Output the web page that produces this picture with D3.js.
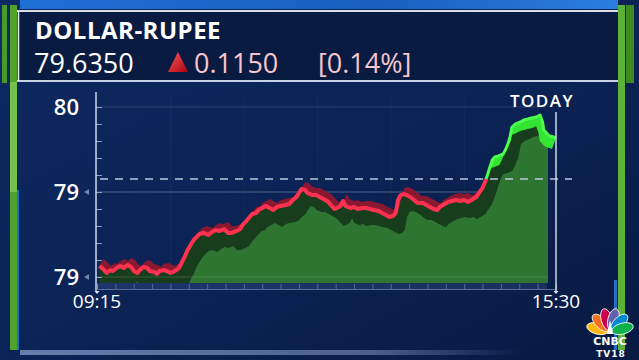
<!DOCTYPE html>
<html>
<head>
<meta charset="utf-8">
<script src="https://cdnjs.cloudflare.com/ajax/libs/d3/7.8.5/d3.min.js"></script>
<style>
  html, body { margin: 0; padding: 0; background: #081a40; }
  svg { display: block; font-family: "Open Sans", "DejaVu Sans", sans-serif; }
</style>
</head>
<body>
<div id="chart"></div>
<script>
// ---- data ----
const title = 'DOLLAR-RUPEE';
const lastRate = '79.6350';
const change = '0.1150';
const changePct = '[0.14%]';

// minutes after the 09:15 open
const minutes = [2, 5, 8, 11, 13, 16, 19, 22, 25, 28, 30, 33, 35, 38, 41, 43, 47, 49, 51, 55,
  57, 60, 62, 65, 67, 69, 72, 74, 77, 79, 82, 84, 87, 91, 94, 97, 100, 104, 107, 110,
  114, 117, 119, 122, 124, 127, 130, 132, 135, 138, 141, 144, 147, 150, 154, 157, 160, 163, 165, 167,
  170, 172, 176, 179, 182, 185, 189, 191, 194, 196, 199, 201, 203, 207, 210, 213, 217, 220, 223, 226,
  230, 233, 236, 239, 242, 244, 246, 248, 251, 253, 256, 259, 262, 266, 269, 272, 275, 278, 280, 284,
  287, 290, 293, 297, 300, 303, 306, 310, 312, 315, 317, 319, 321, 323, 325, 328, 332, 334, 337, 339,
  342, 346, 349, 352, 355, 359, 362, 364, 365, 368, 370, 373, 375];

const rates = [79.065, 79.047, 79.024, 79.041, 79.035, 79.053, 79.065, 79.053, 79.071, 79.059,
  79.035, 79.024, 79.041, 79.059, 79.053, 79.035, 79.029, 79.018, 79.035, 79.041,
  79.035, 79.024, 79.029, 79.041, 79.053, 79.082, 79.124, 79.159, 79.194, 79.218,
  79.241, 79.253, 79.259, 79.247, 79.265, 79.276, 79.271, 79.282, 79.259, 79.259,
  79.271, 79.282, 79.306, 79.329, 79.347, 79.371, 79.376, 79.394, 79.406, 79.418,
  79.406, 79.394, 79.412, 79.418, 79.424, 79.429, 79.453, 79.471, 79.494, 79.518,
  79.512, 79.494, 79.482, 79.482, 79.471, 79.459, 79.441, 79.424, 79.400, 79.406,
  79.418, 79.447, 79.418, 79.406, 79.412, 79.400, 79.406, 79.406, 79.400, 79.394,
  79.388, 79.376, 79.365, 79.353, 79.359, 79.376, 79.453, 79.482, 79.488, 79.482,
  79.471, 79.453, 79.435, 79.435, 79.424, 79.412, 79.400, 79.394, 79.412, 79.429,
  79.441, 79.447, 79.453, 79.447, 79.453, 79.441, 79.453, 79.471, 79.494, 79.524,
  79.559, 79.600, 79.647, 79.688, 79.706, 79.712, 79.724, 79.753, 79.806, 79.882,
  79.900, 79.912, 79.924, 79.929, 79.935, 79.941, 79.953, 79.912, 79.865, 79.841,
  79.829, 79.824, 79.818];

const prevClose = 79.576;           // dashed reference line
const yTickValues = [79, 79.5, 80];
const yTickLabels = ['79', '79', '80'];
const xTickLabels = ['09:15', '15:30'];
const sessionMinutes = [0, 375];

const data = minutes.map((m, i) => ({ m: m, v: rates[i] }));

// ---- layout ----
const W = 639, H = 360;
const plotBottom = 283;   // bottom of the green fill
const fillRight = 548;

const svg = d3.select('#chart').append('svg')
  .attr('width', W)
  .attr('height', H);

const defs = svg.append('defs');

const bgGrad = defs.append('linearGradient').attr('id', 'bg')
  .attr('x1', 0).attr('y1', 0).attr('x2', 1).attr('y2', 1);
bgGrad.append('stop').attr('offset', '0%').attr('stop-color', '#0e2a62');
bgGrad.append('stop').attr('offset', '55%').attr('stop-color', '#0b2254');
bgGrad.append('stop').attr('offset', '100%').attr('stop-color', '#081a42');

const topGrad = defs.append('linearGradient').attr('id', 'topStrip')
  .attr('x1', 0).attr('y1', 0).attr('x2', 1).attr('y2', 0);
topGrad.append('stop').attr('offset', '0%').attr('stop-color', '#1f6fd6');
topGrad.append('stop').attr('offset', '60%').attr('stop-color', '#1a5fc0');
topGrad.append('stop').attr('offset', '100%').attr('stop-color', '#2a7ee0');

const triGrad = defs.append('linearGradient').attr('id', 'tri')
  .attr('x1', 0).attr('y1', 0).attr('x2', 1).attr('y2', 1);
triGrad.append('stop').attr('offset', '0%').attr('stop-color', '#ff5a5a');
triGrad.append('stop').attr('offset', '100%').attr('stop-color', '#a8000e');

const glowGrad = defs.append('linearGradient').attr('id', 'glow')
  .attr('x1', 0).attr('y1', 0).attr('x2', 1).attr('y2', 0);
glowGrad.append('stop').attr('offset', '0%').attr('stop-color', '#8ea4d0').attr('stop-opacity', 0.7);
glowGrad.append('stop').attr('offset', '70%').attr('stop-color', '#8ea4d0').attr('stop-opacity', 0.5);
glowGrad.append('stop').attr('offset', '100%').attr('stop-color', '#8ea4d0').attr('stop-opacity', 0);

// background
svg.append('rect').attr('width', W).attr('height', H).attr('fill', 'url(#bg)');

// header
svg.append('rect').attr('x', 20).attr('y', 0).attr('width', 598).attr('height', 9)
  .attr('fill', 'url(#topStrip)');
svg.append('rect').attr('x', 18).attr('y', 11).attr('width', 602).attr('height', 70)
  .attr('fill', '#0a1b42');
svg.append('line').attr('x1', 16).attr('x2', 622).attr('y1', 11).attr('y2', 11)
  .attr('stroke', '#d8dee8').attr('stroke-width', 2);
svg.append('line').attr('x1', 16).attr('x2', 622).attr('y1', 81).attr('y2', 81)
  .attr('stroke', '#c8d2e2').attr('stroke-width', 2);
svg.append('line').attr('x1', 18.5).attr('x2', 18.5).attr('y1', 11).attr('y2', 81)
  .attr('stroke', '#e8ecf2').attr('stroke-width', 1.5);

// side bars
svg.append('rect').attr('x', 2).attr('y', 5).attr('width', 5).attr('height', 78).attr('fill', '#4a9a2a');
svg.append('rect').attr('x', 10).attr('y', 5).attr('width', 7).attr('height', 345).attr('fill', '#4fa32c');
svg.append('rect').attr('x', 10).attr('y', 82).attr('width', 7).attr('height', 110).attr('fill', '#74c24c');
svg.append('rect').attr('x', 17).attr('y', 190).attr('width', 2).attr('height', 160).attr('fill', '#1e6fc8');
svg.append('rect').attr('x', 618).attr('y', 5).attr('width', 7).attr('height', 345).attr('fill', '#5cb236');
svg.append('rect').attr('x', 626).attr('y', 5).attr('width', 8).attr('height', 78).attr('fill', '#3e8a22');
svg.append('rect').attr('x', 614).attr('y', 280).attr('width', 3).attr('height', 70).attr('fill', '#1e6fc8');

// bottom glow
svg.append('rect').attr('x', 20).attr('y', 350).attr('width', 500).attr('height', 5)
  .attr('fill', 'url(#glow)');

// header text
svg.append('text').attr('x', 35).attr('y', 39)
  .attr('font-size', 24).attr('font-weight', 700).attr('fill', '#ffffff')
  .attr('letter-spacing', 0.5)
  .text(title);
svg.append('text').attr('x', 34).attr('y', 73)
  .attr('font-size', 27).attr('fill', '#ffffff')
  .text(lastRate);
svg.append('path').attr('d', 'M168,72 L178,52 L188,72 Z').attr('fill', 'url(#tri)');
svg.append('text').attr('x', 194).attr('y', 73)
  .attr('font-size', 27).attr('fill', '#f6c6cc')
  .text(change);
svg.append('text').attr('x', 318).attr('y', 73)
  .attr('font-size', 27).attr('fill', '#f6c6cc')
  .text(changePct);

// scales
const x = d3.scaleLinear().domain(sessionMinutes).range([97, 556]);
const y = d3.scaleLinear().domain([79, 80]).range([277, 107]);

// clips
defs.append('clipPath').attr('id', 'fillClip').append('rect')
  .attr('x', 97).attr('y', 90).attr('width', fillRight - 97).attr('height', plotBottom - 90);
defs.append('clipPath').attr('id', 'aboveClip').append('rect')
  .attr('x', 0).attr('y', 0).attr('width', W).attr('height', y(prevClose));
defs.append('clipPath').attr('id', 'belowClip').append('rect')
  .attr('x', 0).attr('y', y(prevClose)).attr('width', W).attr('height', H - y(prevClose));

// faint gridlines
svg.append('g').selectAll('line').data(d3.range(0, 376, 60)).join('line')
  .attr('x1', d => x(d)).attr('x2', d => x(d))
  .attr('y1', 95).attr('y2', 290)
  .attr('stroke', '#ffffff').attr('stroke-opacity', 0.04);
svg.append('g').selectAll('line').data(yTickValues).join('line')
  .attr('x1', 97).attr('x2', 546)
  .attr('y1', d => y(d)).attr('y2', d => y(d))
  .attr('stroke', '#ffffff').attr('stroke-opacity', d => d === 79.5 ? 0.28 : 0.12);

// green area layers (3d look)
const fillG = svg.append('g').attr('clip-path', 'url(#fillClip)');
fillG.append('path').datum(data)
  .attr('fill', '#173d1d')
  .attr('d', d3.area().x(d => x(d.m)).y0(plotBottom).y1(d => y(d.v)));
fillG.append('path').datum(data)
  .attr('fill', '#2e7532')
  .attr('d', d3.area().x(d => x(d.m) + 9).y0(plotBottom + 20).y1(d => y(d.v) + 17));
fillG.append('line').attr('x1', 97).attr('x2', fillRight)
  .attr('y1', y(79)).attr('y2', y(79))
  .attr('stroke', '#6fa070').attr('stroke-opacity', 0.35);

// bottom axis strip
const xAxis = d3.axisBottom(x).tickValues(d3.range(0, 376, 15)).tickSize(-5).tickFormat('');
const xg = svg.append('g').attr('transform', `translate(0,${plotBottom + 6})`).call(xAxis);
xg.select('.domain').attr('stroke', '#8da3cc').attr('stroke-opacity', 0.6);
xg.selectAll('.tick line').attr('stroke', '#8da3cc').attr('stroke-opacity', 0.5);
svg.append('rect').attr('x', 97).attr('y', plotBottom).attr('width', 450).attr('height', 6)
  .attr('fill', '#6b86c0').attr('opacity', 0.18);

// dashed previous close
svg.append('line')
  .attr('x1', 100).attr('x2', 572)
  .attr('y1', y(prevClose)).attr('y2', y(prevClose))
  .attr('stroke', '#b9c6de').attr('stroke-width', 1.5)
  .attr('stroke-dasharray', '8,7');

// ribbon line, red below previous close and green above
const line = d3.line().x(d => x(d.m)).y(d => y(d.v));
const redBand = d3.area()
  .x0(d => x(d.m)).y0(d => y(d.v))
  .x1(d => x(d.m) + 4).y1(d => y(d.v) - 7);
const greenBand = d3.area()
  .x0(d => x(d.m)).y0(d => y(d.v))
  .x1(d => x(d.m) - 4).y1(d => y(d.v) + 11);

const redG = svg.append('g').attr('clip-path', 'url(#belowClip)');
redG.append('path').datum(data).attr('d', redBand).attr('fill', '#8a1830');
redG.append('path').datum(data).attr('d', line)
  .attr('fill', 'none').attr('stroke', '#ff3350').attr('stroke-width', 4)
  .attr('stroke-linejoin', 'round');

const greenG = svg.append('g').attr('clip-path', 'url(#aboveClip)');
greenG.append('path').datum(data).attr('d', greenBand).attr('fill', '#33e433');
greenG.append('path').datum(data).attr('d', line)
  .attr('fill', 'none').attr('stroke', '#4cff4c').attr('stroke-width', 3)
  .attr('stroke-linejoin', 'round');

// left axis with minor ticks
const yAxis = d3.axisRight(y).tickValues(d3.range(79, 80.01, 0.1)).tickSize(6).tickFormat('');
const yg = svg.append('g').attr('transform', 'translate(96,0)').call(yAxis);
yg.select('.domain').remove();
yg.selectAll('.tick line').attr('stroke', '#8fa2c6').attr('stroke-width', 1);
svg.append('line').attr('x1', 96).attr('x2', 96).attr('y1', 92).attr('y2', 291)
  .attr('stroke', '#cfd8ea').attr('stroke-width', 1.5);

// right "today" marker
svg.append('line').attr('x1', x(375)).attr('x2', x(375)).attr('y1', 112).attr('y2', 291)
  .attr('stroke', '#cfd8ea').attr('stroke-width', 1.5);
svg.append('text').attr('x', 542).attr('y', 107).attr('text-anchor', 'middle')
  .attr('font-size', 17).attr('font-weight', 600).attr('letter-spacing', 1.5)
  .attr('fill', '#ffffff').text('TODAY');

// y labels with small arrow heads
yTickValues.forEach((v, i) => {
  svg.append('text').attr('x', 79).attr('y', y(v) + 8).attr('text-anchor', 'end')
    .attr('font-size', 22).attr('font-weight', 600).attr('fill', '#ffffff')
    .text(yTickLabels[i]);
  if (i < 2) {
    svg.append('path')
      .attr('d', `M${84},${y(v)} l5,-3 l0,6 Z`)
      .attr('fill', '#7085ad');
  }
});

// x labels
sessionMinutes.forEach((m, i) => {
  svg.append('text').attr('x', x(m)).attr('y', 308).attr('text-anchor', 'middle')
    .attr('font-size', 19).attr('fill', '#ffffff')
    .text(xTickLabels[i]);
  svg.append('path').attr('d', `M${x(m) - 2.5},291 l5,0 l-2.5,3 Z`).attr('fill', '#e0e6f2');
});

// CNBC TV18 logo
const logo = svg.append('g').attr('transform', 'translate(610,332)');
const featherColors = ['#fcb711', '#f37021', '#cc004c', '#6460aa', '#0089d0', '#0db14b'];
featherColors.forEach((c, i) => {
  const a = -75 + i * 30;
  logo.append('ellipse')
    .attr('cx', 0).attr('cy', -13).attr('rx', 5.5).attr('ry', 11)
    .attr('transform', `rotate(${a})`)
    .attr('fill', c).attr('stroke', '#ffffff').attr('stroke-width', 0.8);
});
logo.append('path').attr('d', 'M-3,2 L0,-12 L3,2 Z').attr('fill', '#ffffff');
logo.append('text').attr('x', 0).attr('y', 13).attr('text-anchor', 'middle')
  .attr('font-size', 11).attr('font-weight', 900).attr('fill', '#ffffff')
  .attr('font-family', 'DejaVu Sans')
  .text('CNBC');
logo.append('text').attr('x', 1).attr('y', 25).attr('text-anchor', 'middle')
  .attr('font-size', 9).attr('font-weight', 900).attr('fill', '#ffffff')
  .attr('font-family', 'DejaVu Sans').attr('letter-spacing', 1)
  .text('TV18');
</script>
</body>
</html>
